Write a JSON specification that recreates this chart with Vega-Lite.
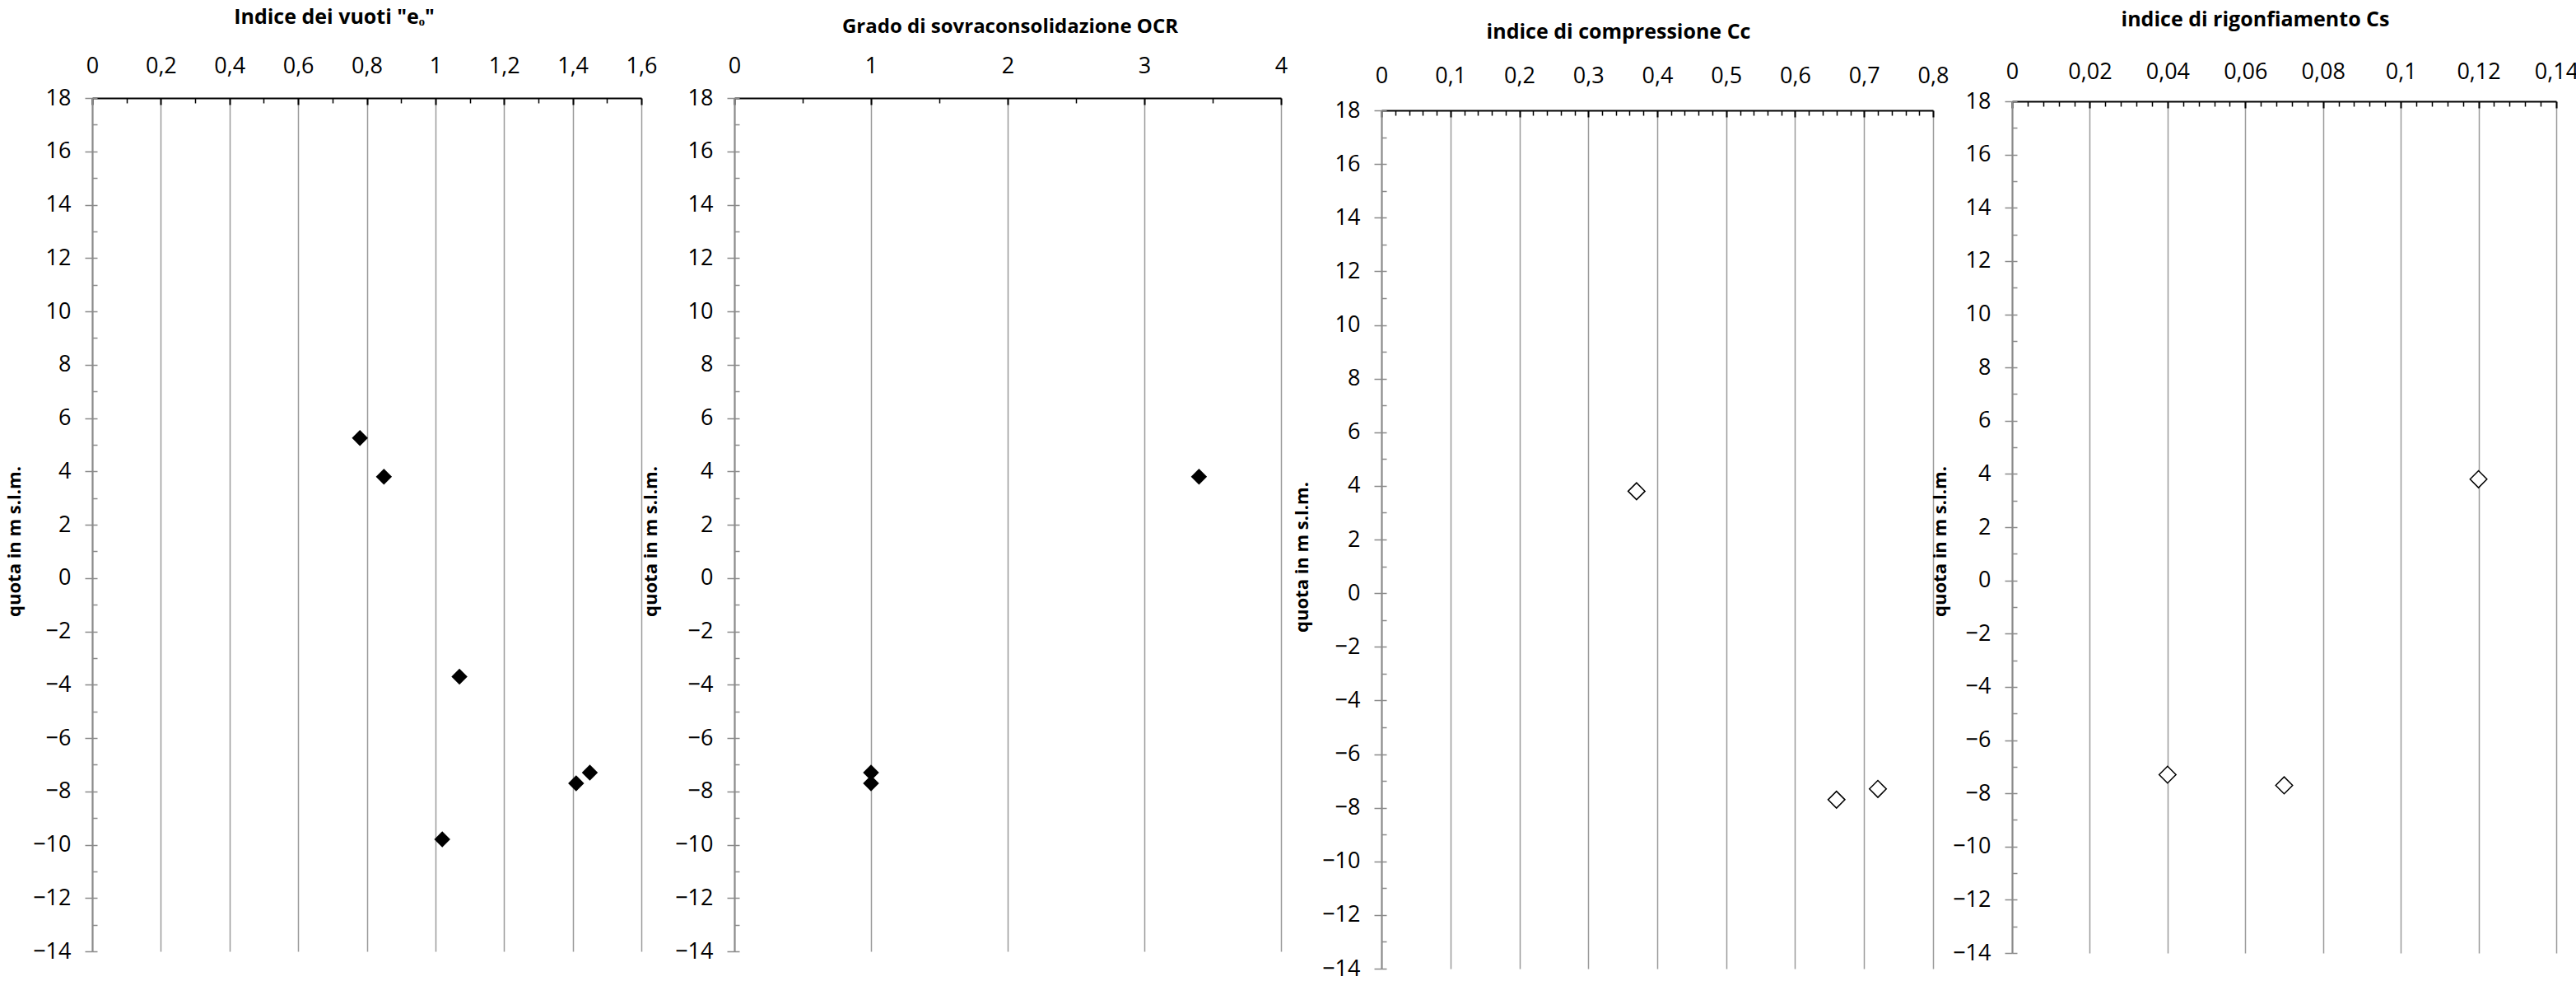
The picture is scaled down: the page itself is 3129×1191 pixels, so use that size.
{
  "$schema": "https://vega.github.io/schema/vega-lite/v6.json",
  "background": "white",
  "padding": {"left": 6, "top": 9, "right": 0, "bottom": 0},
  "bounds": "flush",
  "spacing": 96,
  "datasets": {
    "e0": [
      {"quota": 5.25, "valore": 0.78},
      {"quota": 3.8, "valore": 0.85},
      {"quota": -3.7, "valore": 1.07},
      {"quota": -7.3, "valore": 1.45},
      {"quota": -7.7, "valore": 1.41},
      {"quota": -9.8, "valore": 1.02}
    ],
    "ocr": [
      {"quota": 3.8, "valore": 3.4},
      {"quota": -7.3, "valore": 1.0},
      {"quota": -7.7, "valore": 1.0}
    ],
    "cc": [
      {"quota": 3.8, "valore": 0.37},
      {"quota": -7.3, "valore": 0.72},
      {"quota": -7.7, "valore": 0.66}
    ],
    "cs": [
      {"quota": 3.8, "valore": 0.12},
      {"quota": -7.3, "valore": 0.04},
      {"quota": -7.7, "valore": 0.07}
    ]
  },
  "config": {
    "view": {"stroke": null},
    "font": "Open Sans",
    "axis": {"labelFont": "Open Sans", "titleFont": "Open Sans", "labelColor": "black", "titleColor": "black", "labelFontSize": 27, "titleFontSize": 22, "titleFontWeight": "bold"},
    "title": {"font": "Open Sans", "fontSize": 25, "fontWeight": "bold", "color": "black", "anchor": "middle"}
  },
  "hconcat": [
    {
      "title": {"text": "Indice dei vuoti \"eₒ\"", "offset": 32, "dx": -48},
      "data": {"name": "e0"},
      "width": 684,
      "height": 1036,
      "layer": [
        {
          "mark": {"type": "point", "shape": "diamond", "filled": true, "color": "black", "opacity": 1, "size": 380},
          "encoding": {
            "x": {"field": "valore", "type": "quantitative", "scale": {"domain": [0, 1.6], "range": [0, 667], "nice": false, "zero": false},
              "axis": {"orient": "top", "title": null, "values": [0, 0.2, 0.4, 0.6, 0.8, 1, 1.2, 1.4, 1.6], "labelExpr": "replace(toString(datum.value), '.', ',')", "labelPadding": 33, "tickSize": -8, "tickColor": "black", "tickWidth": 2, "domainColor": "black", "domainWidth": 2, "grid": true, "gridColor": "#9a9a9a", "gridWidth": 1.5, "labelFlush": false, "labelOverlap": false}},
            "y": {"field": "quota", "type": "quantitative", "scale": {"domain": [-14, 18], "nice": false, "zero": false},
              "axis": {"orient": "left", "title": "quota in m s.l.m.", "titleY": 538, "titlePadding": 10, "values": [-14, -12, -10, -8, -6, -4, -2, 0, 2, 4, 6, 8, 10, 12, 14, 16, 18], "labelPadding": 17, "tickSize": 9, "tickColor": "#8a8a8a", "tickWidth": 1.5, "domainColor": "#8a8a8a", "domainWidth": 2, "grid": false, "labelOverlap": false, "labelFlush": false}}
          }
        },
        {
          "mark": {"type": "point", "opacity": 0},
          "encoding": {
            "x": {"field": "valore", "type": "quantitative", "axis": {"orient": "top", "title": null, "values": [0.1, 0.3, 0.5, 0.7, 0.9, 1.1, 1.3, 1.5], "labels": false, "domain": false, "grid": false, "tickSize": -6, "tickColor": "black", "tickWidth": 1.5}},
            "y": {"field": "quota", "type": "quantitative", "axis": {"orient": "left", "title": null, "values": [-14, -13, -12, -11, -10, -9, -8, -7, -6, -5, -4, -3, -2, -1, 0, 1, 2, 3, 4, 5, 6, 7, 8, 9, 10, 11, 12, 13, 14, 15, 16, 17, 18], "labels": false, "domain": false, "grid": false, "tickSize": -6, "tickColor": "#8a8a8a", "tickWidth": 1.5}}
          }
        }
      ],
      "resolve": {"axis": {"x": "independent", "y": "independent"}}
    },
    {
      "title": {"text": "Grado di sovraconsolidazione OCR", "offset": 21, "dx": -10, "fontSize": 24},
      "data": {"name": "ocr"},
      "width": 690,
      "height": 1036,
      "layer": [
        {
          "mark": {"type": "point", "shape": "diamond", "filled": true, "color": "black", "opacity": 1, "size": 380},
          "encoding": {
            "x": {"field": "valore", "type": "quantitative", "scale": {"domain": [0, 4], "range": [0, 664], "nice": false, "zero": false},
              "axis": {"orient": "top", "title": null, "values": [0, 1, 2, 3, 4], "labelExpr": "replace(toString(datum.value), '.', ',')", "labelPadding": 33, "tickSize": -8, "tickColor": "black", "tickWidth": 2, "domainColor": "black", "domainWidth": 2, "grid": true, "gridColor": "#9a9a9a", "gridWidth": 1.5, "labelFlush": false, "labelOverlap": false}},
            "y": {"field": "quota", "type": "quantitative", "scale": {"domain": [-14, 18], "nice": false, "zero": false},
              "axis": {"orient": "left", "title": "quota in m s.l.m.", "titleY": 538, "titlePadding": 17, "values": [-14, -12, -10, -8, -6, -4, -2, 0, 2, 4, 6, 8, 10, 12, 14, 16, 18], "labelPadding": 17, "tickSize": 9, "tickColor": "#8a8a8a", "tickWidth": 1.5, "domainColor": "#8a8a8a", "domainWidth": 2, "grid": false, "labelOverlap": false, "labelFlush": false}}
          }
        },
        {
          "mark": {"type": "point", "opacity": 0},
          "encoding": {
            "x": {"field": "valore", "type": "quantitative", "axis": {"orient": "top", "title": null, "values": [0.5, 1.5, 2.5, 3.5], "labels": false, "domain": false, "grid": false, "tickSize": -6, "tickColor": "black", "tickWidth": 1.5}},
            "y": {"field": "quota", "type": "quantitative", "axis": {"orient": "left", "title": null, "values": [-14, -13, -12, -11, -10, -9, -8, -7, -6, -5, -4, -3, -2, -1, 0, 1, 2, 3, 4, 5, 6, 7, 8, 9, 10, 11, 12, 13, 14, 15, 16, 17, 18], "labels": false, "domain": false, "grid": false, "tickSize": -6, "tickColor": "#8a8a8a", "tickWidth": 1.5}}
          }
        }
      ],
      "resolve": {"axis": {"x": "independent", "y": "independent"}}
    },
    {
      "title": {"text": "indice di compressione Cc", "offset": 26, "dx": -47},
      "data": {"name": "cc"},
      "width": 670,
      "height": 1057,
      "layer": [
        {
          "mark": {"type": "point", "shape": "diamond", "filled": true, "fill": "white", "stroke": "black", "strokeWidth": 1.5, "opacity": 1, "size": 420},
          "encoding": {
            "x": {"field": "valore", "type": "quantitative", "scale": {"domain": [0, 0.8], "range": [0, 670], "nice": false, "zero": false},
              "axis": {"orient": "top", "offset": -15, "title": null, "values": [0, 0.1, 0.2, 0.3, 0.4, 0.5, 0.6, 0.7, 0.8], "labelExpr": "replace(toString(datum.value), '.', ',')", "labelPadding": 36, "tickSize": -8, "tickColor": "black", "tickWidth": 2, "domainColor": "black", "domainWidth": 2, "grid": true, "gridColor": "#9a9a9a", "gridWidth": 1.5, "labelFlush": false, "labelOverlap": false}},
            "y": {"field": "quota", "type": "quantitative", "scale": {"domain": [-14, 18], "range": [1057, 15], "nice": false, "zero": false},
              "axis": {"orient": "left", "title": "quota in m s.l.m.", "titleY": 557, "titlePadding": 12, "values": [-14, -12, -10, -8, -6, -4, -2, 0, 2, 4, 6, 8, 10, 12, 14, 16, 18], "labelPadding": 17, "tickSize": 9, "tickColor": "#8a8a8a", "tickWidth": 1.5, "domainColor": "#8a8a8a", "domainWidth": 2, "grid": false, "labelOverlap": false, "labelFlush": false}}
          }
        },
        {
          "mark": {"type": "point", "opacity": 0},
          "encoding": {
            "x": {"field": "valore", "type": "quantitative", "axis": {"orient": "top", "offset": -15, "title": null, "values": [0.02, 0.04, 0.06, 0.08, 0.12, 0.14, 0.16, 0.18, 0.22, 0.24, 0.26, 0.28, 0.32, 0.34, 0.36, 0.38, 0.42, 0.44, 0.46, 0.48, 0.52, 0.54, 0.56, 0.58, 0.62, 0.64, 0.66, 0.68, 0.72, 0.74, 0.76, 0.78], "labels": false, "domain": false, "grid": false, "tickSize": -6, "tickColor": "black", "tickWidth": 1.5}},
            "y": {"field": "quota", "type": "quantitative", "axis": {"orient": "left", "title": null, "values": [-14, -13, -12, -11, -10, -9, -8, -7, -6, -5, -4, -3, -2, -1, 0, 1, 2, 3, 4, 5, 6, 7, 8, 9, 10, 11, 12, 13, 14, 15, 16, 17, 18], "labels": false, "domain": false, "grid": false, "tickSize": -6, "tickColor": "#8a8a8a", "tickWidth": 1.5}}
          }
        }
      ],
      "resolve": {"axis": {"x": "independent", "y": "independent"}}
    },
    {
      "title": {"text": "indice di rigonfiamento Cs", "offset": 36, "dx": -35},
      "data": {"name": "cs"},
      "width": 661,
      "height": 1038,
      "layer": [
        {
          "mark": {"type": "point", "shape": "diamond", "filled": true, "fill": "white", "stroke": "black", "strokeWidth": 1.5, "opacity": 1, "size": 420},
          "encoding": {
            "x": {"field": "valore", "type": "quantitative", "scale": {"domain": [0, 0.14], "range": [0, 661], "nice": false, "zero": false},
              "axis": {"orient": "top", "offset": -4, "title": null, "values": [0, 0.02, 0.04, 0.06, 0.08, 0.1, 0.12, 0.14], "labelExpr": "replace(toString(datum.value), '.', ',')", "labelPadding": 30, "tickSize": -8, "tickColor": "black", "tickWidth": 2, "domainColor": "black", "domainWidth": 2, "grid": true, "gridColor": "#9a9a9a", "gridWidth": 1.5, "labelFlush": false, "labelOverlap": false}},
            "y": {"field": "quota", "type": "quantitative", "scale": {"domain": [-14, 18], "range": [1038, 4], "nice": false, "zero": false},
              "axis": {"orient": "left", "title": "quota in m s.l.m.", "titleY": 538, "titlePadding": 3, "values": [-14, -12, -10, -8, -6, -4, -2, 0, 2, 4, 6, 8, 10, 12, 14, 16, 18], "labelPadding": 17, "tickSize": 9, "tickColor": "#8a8a8a", "tickWidth": 1.5, "domainColor": "#8a8a8a", "domainWidth": 2, "grid": false, "labelOverlap": false, "labelFlush": false}}
          }
        },
        {
          "mark": {"type": "point", "opacity": 0},
          "encoding": {
            "x": {"field": "valore", "type": "quantitative", "axis": {"orient": "top", "offset": -4, "title": null, "values": [0.004, 0.008, 0.012, 0.016, 0.024, 0.028, 0.032, 0.036, 0.044, 0.048, 0.052, 0.056, 0.064, 0.068, 0.072, 0.076, 0.084, 0.088, 0.092, 0.096, 0.104, 0.108, 0.112, 0.116, 0.124, 0.128, 0.132, 0.136], "labels": false, "domain": false, "grid": false, "tickSize": -6, "tickColor": "black", "tickWidth": 1.5}},
            "y": {"field": "quota", "type": "quantitative", "axis": {"orient": "left", "title": null, "values": [-14, -13, -12, -11, -10, -9, -8, -7, -6, -5, -4, -3, -2, -1, 0, 1, 2, 3, 4, 5, 6, 7, 8, 9, 10, 11, 12, 13, 14, 15, 16, 17, 18], "labels": false, "domain": false, "grid": false, "tickSize": -6, "tickColor": "#8a8a8a", "tickWidth": 1.5}}
          }
        }
      ],
      "resolve": {"axis": {"x": "independent", "y": "independent"}}
    }
  ]
}
